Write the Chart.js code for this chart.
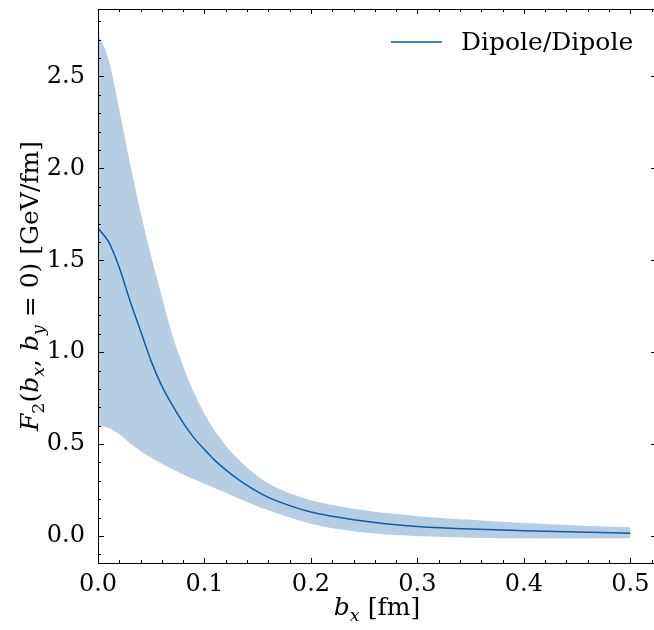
<!DOCTYPE html>
<html>
<head>
<meta charset="utf-8">
<script src="https://cdn.jsdelivr.net/npm/chart.js@4.4.1/dist/chart.umd.min.js"></script>
<style>
  html, body { margin: 0; padding: 0; background: #fff; overflow: hidden; }
  #wrap { width: 654px; height: 630px; overflow: hidden; }
</style>
</head>
<body>
<div id="wrap"><canvas id="f2Chart" width="658" height="630"></canvas></div>
<script>
// b_x values [fm]
const bx = [0, 0.01, 0.02, 0.03, 0.04, 0.05, 0.06, 0.07, 0.08, 0.09, 0.10,
  0.11, 0.12, 0.13, 0.14, 0.15, 0.16, 0.18, 0.20, 0.22, 0.24, 0.26, 0.28,
  0.30, 0.35, 0.40, 0.45, 0.50];

// central curve
const f2Central = [1.674, 1.60, 1.46, 1.28, 1.115, 0.95, 0.815, 0.71, 0.615, 0.535, 0.47,
  0.41, 0.36, 0.315, 0.275, 0.24, 0.21, 0.165, 0.13, 0.107, 0.088, 0.073, 0.061,
  0.052, 0.038, 0.029, 0.021, 0.015];

// error band
const f2Upper = [2.73, 2.59, 2.32, 2.03, 1.76, 1.52, 1.30, 1.09, 0.925, 0.78, 0.665,
  0.57, 0.492, 0.428, 0.372, 0.325, 0.285, 0.232, 0.194, 0.168, 0.148, 0.132, 0.119,
  0.108, 0.088, 0.07, 0.057, 0.047];
const f2Lower = [0.60, 0.588, 0.553, 0.505, 0.463, 0.426, 0.393, 0.363, 0.335, 0.309, 0.284,
  0.26, 0.235, 0.21, 0.185, 0.161, 0.14, 0.10, 0.066, 0.042, 0.026, 0.014, 0.005,
  -0.001, -0.009, -0.013, -0.014, -0.013];

const xTickValues = [0, 0.1, 0.2, 0.3, 0.4, 0.5];
const yTickValues = [0, 0.5, 1.0, 1.5, 2.0, 2.5];
const legendLabel = 'Dipole/Dipole';

const lineColor = '#0C5DA5';
const bandColor = 'rgba(12, 93, 165, 0.3)';
const serif = '"DejaVu Serif", serif';

const toPoints = arr => arr.map((v, i) => ({ x: bx[i], y: v }));

// draw text made of pieces (italic, subscript)
function drawRich(ctx, parts, size) {
  let w = 0;
  const fontOf = p => (p.it ? 'italic ' : '') + (p.sub ? size * 0.7 : size) + 'px ' + serif;
  parts.forEach(p => { ctx.font = fontOf(p); w += ctx.measureText(p.t).width; });
  let x = -w / 2;
  parts.forEach(p => {
    ctx.font = fontOf(p);
    ctx.fillText(p.t, x, p.sub ? size * 0.22 : 0);
    x += ctx.measureText(p.t).width;
  });
}

const framePlugin = {
  id: 'frame',
  afterDraw(chart) {
    const { ctx, chartArea: a, scales: { x, y } } = chart;
    ctx.save();
    ctx.strokeStyle = '#000';
    ctx.lineWidth = 1;
    ctx.strokeRect(Math.round(a.left) + 0.5, Math.round(a.top) + 0.5,
      Math.round(a.right - a.left), Math.round(a.bottom - a.top));

    ctx.beginPath();
    for (let i = 0; i * 0.02 <= x.max + 1e-9; i++) {
      const len = i % 5 === 0 ? 5 : 3;
      const p = Math.round(x.getPixelForValue(i * 0.02)) + 0.5;
      ctx.moveTo(p, a.bottom); ctx.lineTo(p, a.bottom - len);
      ctx.moveTo(p, a.top); ctx.lineTo(p, a.top + len);
    }
    for (let i = -1; i * 0.1 <= y.max + 1e-9; i++) {
      const len = ((i % 5) + 5) % 5 === 0 ? 6 : 3;
      const p = Math.round(y.getPixelForValue(i * 0.1)) + 0.5;
      ctx.moveTo(a.left, p); ctx.lineTo(a.left + len, p);
      ctx.moveTo(a.right, p); ctx.lineTo(a.right - len, p);
    }
    ctx.stroke();

    // legend
    ctx.strokeStyle = lineColor;
    ctx.lineWidth = 1.5;
    ctx.beginPath();
    ctx.moveTo(391, 42); ctx.lineTo(442, 42);
    ctx.stroke();
    ctx.fillStyle = '#000';
    ctx.font = '25px ' + serif;
    ctx.textBaseline = 'middle';
    ctx.textAlign = 'left';
    ctx.fillText(legendLabel, 461, 43);

    // axis titles
    ctx.textAlign = 'left';
    ctx.textBaseline = 'alphabetic';
    ctx.save();
    ctx.translate((a.left + 654) / 2 + 1, 615);
    drawRich(ctx, [{ t: 'b', it: true }, { t: 'x', it: true, sub: true }, { t: ' [fm]' }], 25);
    ctx.restore();

    ctx.save();
    ctx.translate(38, (a.top + a.bottom) / 2);
    ctx.rotate(-Math.PI / 2);
    drawRich(ctx, [
      { t: 'F', it: true }, { t: '2', sub: true }, { t: '(' },
      { t: 'b', it: true }, { t: 'x', it: true, sub: true }, { t: ', ' },
      { t: 'b', it: true }, { t: 'y', it: true, sub: true },
      { t: ' = 0) [GeV/fm]' }
    ], 25);
    ctx.restore();
    ctx.restore();
  }
};

new Chart(document.getElementById('f2Chart').getContext('2d'), {
  type: 'line',
  data: {
    datasets: [
      {
        label: 'upper',
        data: toPoints(f2Upper),
        borderWidth: 0,
        pointRadius: 0,
        backgroundColor: bandColor,
        fill: '+1',
        cubicInterpolationMode: 'monotone'
      },
      {
        label: 'lower',
        data: toPoints(f2Lower),
        borderWidth: 0,
        pointRadius: 0,
        fill: false,
        cubicInterpolationMode: 'monotone'
      },
      {
        label: legendLabel,
        data: toPoints(f2Central),
        borderColor: lineColor,
        borderWidth: 1.5,
        pointRadius: 0,
        fill: false,
        cubicInterpolationMode: 'monotone'
      }
    ]
  },
  options: {
    responsive: false,
    animation: false,
    layout: { padding: { left: 0, top: 9, right: 1, bottom: 0 } },
    plugins: {
      legend: { display: false },
      tooltip: { enabled: false }
    },
    scales: {
      x: {
        type: 'linear',
        min: 0,
        max: 0.525,
        grid: { display: false, drawTicks: false },
        border: { display: false },
        afterFit: s => { s.height = 67; s.paddingLeft = 0; s.paddingRight = 0; },
        afterBuildTicks: s => { s.ticks = xTickValues.map(v => ({ value: v })); },
        ticks: {
          padding: 7,
          color: '#000',
          font: { family: serif, size: 24 },
          callback: v => v.toFixed(1)
        }
      },
      y: {
        type: 'linear',
        min: -0.147,
        max: 2.867,
        grid: { display: false, drawTicks: false },
        border: { display: false },
        afterFit: s => { s.width = 98; s.paddingTop = 0; s.paddingBottom = 0; },
        afterBuildTicks: s => { s.ticks = yTickValues.map(v => ({ value: v })); },
        ticks: {
          padding: 13,
          color: '#000',
          font: { family: serif, size: 24 },
          callback: v => v.toFixed(1)
        }
      }
    }
  },
  plugins: [framePlugin]
});
</script>
</body>
</html>
